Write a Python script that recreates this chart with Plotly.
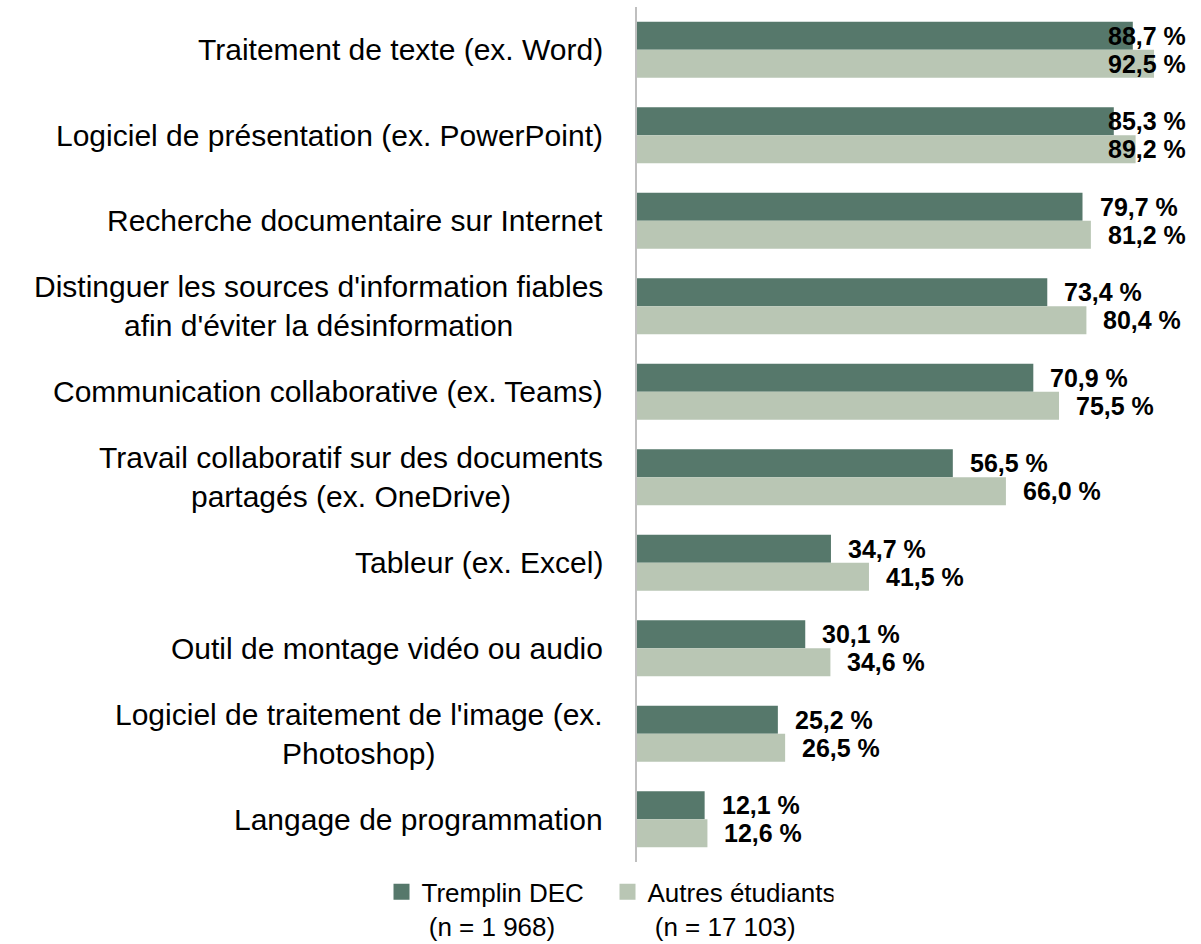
import plotly.graph_objects as go

categories = [
    "Traitement de texte (ex. Word)",
    "Logiciel de présentation (ex. PowerPoint)",
    "Recherche documentaire sur Internet",
    "Distinguer les sources d'information fiables<br>afin d'éviter la désinformation",
    "Communication collaborative (ex. Teams)",
    "Travail collaboratif sur des documents<br>partagés (ex. OneDrive)",
    "Tableur (ex. Excel)",
    "Outil de montage vidéo ou audio",
    "Logiciel de traitement de l'image (ex.<br>Photoshop)",
    "Langage de programmation",
]
tremplin = [88.7, 85.3, 79.7, 73.4, 70.9, 56.5, 34.7, 30.1, 25.2, 12.1]
autres = [92.5, 89.2, 81.2, 80.4, 75.5, 66.0, 41.5, 34.6, 26.5, 12.6]
series_names = ["Tremplin DEC<br>\u00a0(n = 1 968)", "Autres étudiants<br>\u00a0(n = 17 103)"]

DARK = "#56786B"
LIGHT = "#B9C6B4"
LABEL_FONT = dict(family="Liberation Sans, Arial, sans-serif", size=25, color="#000000")
CAT_FONT = dict(family="Liberation Sans, Arial, sans-serif", size=30, color="#000000")

XMAX = 100.9
LABEL_CAP = 98.6
LABEL_W = 14.1
PAD = 3.0

fig = go.Figure()
for vals, color, name in [(tremplin, DARK, series_names[0]), (autres, LIGHT, series_names[1])]:
    fig.add_trace(go.Bar(y=categories, x=vals, orientation="h", marker_color=color,
                         marker_line_width=0, showlegend=False, name=name, hoverinfo="x+y"))
for color, name in [(DARK, series_names[0]), (LIGHT, series_names[1])]:
    fig.add_trace(go.Scatter(x=[None], y=[None], mode="markers", name=name,
                             marker=dict(symbol="square", size=17, color=color)))

annotations = []
for vals, shift in [(tremplin, 14), (autres, -14)]:
    for cat, v in zip(categories, vals):
        txt = f"{v:.1f}".replace(".", ",") + " %"
        if v + PAD + LABEL_W > LABEL_CAP:
            annotations.append(dict(x=LABEL_CAP, y=cat, xref="x", yref="y", text=f"<b>{txt}</b>",
                                    showarrow=False, xanchor="right", yanchor="middle",
                                    yshift=shift, font=LABEL_FONT))
        else:
            annotations.append(dict(x=v, y=cat, xref="x", yref="y", text=f"<b>{txt}</b>",
                                    showarrow=False, xanchor="left", yanchor="middle",
                                    xshift=15, yshift=shift, font=LABEL_FONT))
for cat in categories:
    annotations.append(dict(x=0, y=cat, xref="paper", yref="y", text=cat, showarrow=False,
                            xanchor="right", yanchor="middle", align="center", xshift=-32,
                            font=CAT_FONT))

fig.update_layout(
    width=1201, height=944,
    margin=dict(l=637, r=0, t=7, b=82, autoexpand=False),
    paper_bgcolor="white", plot_bgcolor="white",
    barmode="group", bargap=0.345, bargroupgap=0,
    xaxis=dict(range=[0, XMAX], visible=False, fixedrange=True),
    yaxis=dict(autorange="reversed", showticklabels=False, showgrid=False, zeroline=False,
               showline=True, linecolor="#BFBFBF", linewidth=2, ticks="", fixedrange=True),
    showlegend=True,
    legend=dict(orientation="h", x=-0.453, xanchor="left", y=-0.0075, yanchor="top",
                font=dict(family="Liberation Sans, Arial, sans-serif", size=26, color="#000000"),
                valign="top", itemsizing="trace", traceorder="normal", entrywidth=181),
    annotations=annotations,
)

fig.write_html("out.html", config={"displayModeBar": False},
               post_script="document.body.style.margin='0';document.body.style.overflow='hidden';")
